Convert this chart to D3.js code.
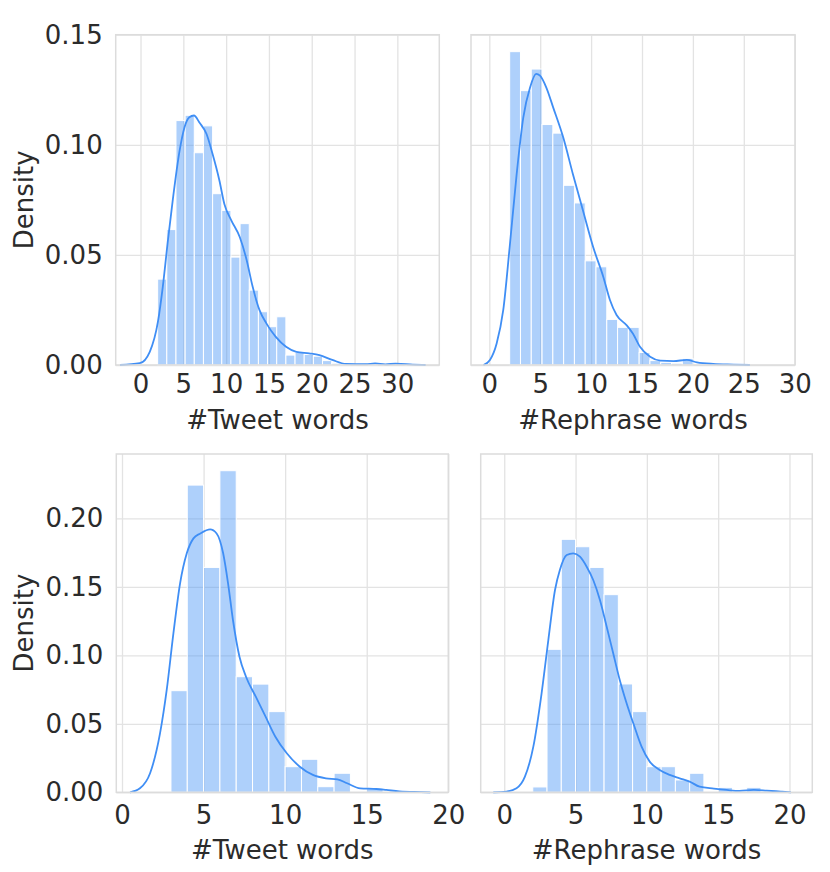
<!DOCTYPE html>
<html>
<head>
<meta charset="utf-8">
<script src="https://cdn.jsdelivr.net/npm/d3@7"></script>
<style>
  body { margin: 0; background: #fff; }
  svg text { font-family: "DejaVu Sans", sans-serif; fill: #2b2b2b; }
</style>
</head>
<body>
<div id="chart"></div>
<script>
// histogram bin heights (density)
var tweetTopStart = 2, tweetTopWidth = 1.07;
var tweetTopBars = [0.039, 0.0615, 0.111, 0.1134, 0.0964, 0.1086, 0.0778, 0.0702, 0.049, 0.0642,
  0.034, 0.0242, 0.0174, 0.0219, 0.0045, 0.0057, 0.0048, 0.004, 0.002, 0.0008,
  0.0004, 0, 0, 0.0004, 0, 0, 0, 0.0004, 0];
var rephTopStart = 2, rephTopWidth = 1.06;
var rephTopBars = [0.1423, 0.1246, 0.1344, 0.1092, 0.1053, 0.0816, 0.0736, 0.0473, 0.0446, 0.0207,
  0.0171, 0.0171, 0.0057, 0.002, 0.0012, 0.0008, 0.003];
var tweetBotStart = 3, tweetBotWidth = 1;
var tweetBotBars = [0.0742, 0.2243, 0.1642, 0.2348, 0.0844, 0.079, 0.0589, 0.0187, 0.0241, 0.0041,
  0.0139, 0, 0.003];
var rephBotStart = 2, rephBotWidth = 1;
var rephBotBars = [0.0039, 0.1044, 0.1847, 0.1793, 0.1642, 0.1443, 0.0791, 0.0589, 0.0187, 0.0187,
  0.009, 0.0139, 0, 0.0036, 0, 0.0036];

// kde curves [x, density]
var tweetTopKde = [[-2.4,0],[-0.09,0.0008],[1.08,0.006],[2.05,0.02],[2.6,0.0355],[3.2,0.0566],[3.8,0.076],
  [4.55,0.097],[5.14,0.108],[5.7,0.1125],[6.24,0.1133],[6.9,0.11],[7.7,0.105],[8.4,0.096],[9.2,0.084],
  [9.8,0.073],[10.6,0.0657],[11.6,0.058],[12.4,0.0476],[13.1,0.0355],[13.9,0.0249],[14.7,0.0189],
  [15.8,0.0128],[17.0,0.0083],[18.2,0.006],[19.7,0.0053],[20.9,0.0045],[22.4,0.0023],[24.0,0.0005],
  [26.3,0.0004],[27.4,0.0007],[28.6,0.0003],[29.8,0.0006],[31.8,0.0002],[33.3,0]];
var rephTopKde = [[-0.58,0],[0.06,0.0023],[0.72,0.0098],[1.37,0.025],[2.0,0.0536],[2.69,0.0869],
  [3.34,0.1125],[4.0,0.126],[4.6,0.1322],[4.98,0.1314],[5.6,0.126],[6.27,0.117],[7.25,0.1035],
  [8.2,0.0869],[9.2,0.0702],[10.2,0.0536],[11.2,0.04],[11.85,0.0295],[12.5,0.0227],[13.5,0.018],
  [14.1,0.0143],[14.8,0.0083],[15.8,0.0038],[16.8,0.002],[18.1,0.0018],[19.4,0.0023],[20.4,0.0012],
  [22.0,0.0005],[24.0,0.0002],[25.6,0]];
var tweetBotKde = [[0.49,0],[1.1,0.0029],[1.72,0.0139],[2.33,0.043],[2.74,0.0747],[3.15,0.116],
  [3.56,0.1526],[3.97,0.1745],[4.38,0.1854],[4.8,0.189],[5.4,0.192],[5.8,0.189],[6.2,0.1745],
  [6.5,0.1526],[6.8,0.1258],[7.2,0.099],[7.6,0.0844],[8.2,0.0698],[8.8,0.0552],[9.4,0.0406],
  [10.1,0.0285],[10.9,0.0187],[11.7,0.0127],[12.5,0.0102],[13.2,0.0095],[13.8,0.0066],[14.6,0.0029],
  [15.6,0.0024],[16.2,0.0017],[17.0,0.0007],[18.3,0.0002],[18.9,0]];
var rephBotKde = [[-0.77,0],[0.16,0.0005],[0.86,0.0029],[1.45,0.0114],[2.04,0.0333],[2.62,0.0723],
  [3.09,0.111],[3.56,0.1477],[3.9,0.1623],[4.38,0.1732],[4.84,0.1745],[5.31,0.172],[5.78,0.1647],
  [6.24,0.155],[6.71,0.1404],[7.18,0.121],[7.64,0.1015],[8.1,0.082],[8.58,0.065],[9.05,0.0504],
  [9.63,0.0333],[10.2,0.0224],[10.9,0.0163],[11.6,0.0127],[12.3,0.0102],[13.0,0.0078],[13.7,0.0041],
  [14.7,0.0027],[15.6,0.0017],[16.5,0.001],[17.5,0.0017],[18.4,0.0012],[19.4,0.0005],[20.1,0]];

var topYTicks = [0, 0.05, 0.10, 0.15];
var botYTicks = [0, 0.05, 0.10, 0.15, 0.20];
var xTicks30 = [0, 5, 10, 15, 20, 25, 30];
var xTicks20 = [0, 5, 10, 15, 20];

var width = 830, height = 872;
var lineColor = "#3f8ef5";
var fontSize = 26;

var svg = d3.select("#chart").append("svg")
    .attr("width", width)
    .attr("height", height);

var panels = [
  {x0: 115.7, x1: 439.3, y0: 34.7, y1: 365, xd: [-2.9, 34.9], yd: [0, 0.15], xt: xTicks30, yt: topYTicks,
   bars: tweetTopBars, start: tweetTopStart, bw: tweetTopWidth, kde: tweetTopKde, label: "#Tweet words", showY: true, pad: 10},
  {x0: 471, x1: 795, y0: 34.7, y1: 365, xd: [-1.8, 30.03], yd: [0, 0.15], xt: xTicks30, yt: topYTicks,
   bars: rephTopBars, start: rephTopStart, bw: rephTopWidth, kde: rephTopKde, label: "#Rephrase words", showY: false, pad: 10},
  {x0: 116.3, x1: 448.3, y0: 454, y1: 792.3, xd: [-0.35, 20.0], yd: [0, 0.247], xt: xTicks20, yt: botYTicks,
   bars: tweetBotBars, start: tweetBotStart, bw: tweetBotWidth, kde: tweetBotKde, label: "#Tweet words", showY: true, pad: 13},
  {x0: 480.7, x1: 812.3, y0: 454, y1: 792.3, xd: [-1.65, 21.6], yd: [0, 0.247], xt: xTicks20, yt: botYTicks,
   bars: rephBotBars, start: rephBotStart, bw: rephBotWidth, kde: rephBotKde, label: "#Rephrase words", showY: false, pad: 13}
];

panels.forEach(function(p) {
  var w = p.x1 - p.x0, h = p.y1 - p.y0;
  var x = d3.scaleLinear().domain(p.xd).range([0, w]);
  var y = d3.scaleLinear().domain(p.yd).range([h, 0]);
  var g = svg.append("g").attr("transform", "translate(" + p.x0 + "," + p.y0 + ")");

  // grid + tick labels
  var xa = g.append("g")
      .attr("transform", "translate(0," + h + ")")
      .call(d3.axisBottom(x).tickValues(p.xt).tickSize(-h).tickPadding(p.pad).tickFormat(d3.format("d")));
  var ya = g.append("g")
      .call(d3.axisLeft(y).tickValues(p.yt).tickSize(-w).tickPadding(13).tickFormat(d3.format(".2f")));
  [xa, ya].forEach(function(a) {
    a.select(".domain").remove();
    a.selectAll("line").attr("stroke", "#e3e3e3").attr("stroke-width", 1.3);
    a.selectAll("text").attr("font-size", fontSize).style("fill", "#2b2b2b")
      .attr("font-family", "DejaVu Sans, sans-serif");
  });
  if (!p.showY) ya.selectAll("text").remove();

  // histogram bars
  g.append("g").selectAll("rect")
    .data(p.bars)
    .enter().append("rect")
      .attr("x", function(d, i) { return x(p.start + i * p.bw); })
      .attr("width", function(d, i) { return x(p.start + (i + 1) * p.bw) - x(p.start + i * p.bw); })
      .attr("y", function(d) { return y(d); })
      .attr("height", function(d) { return h - y(d); })
      .attr("fill", lineColor)
      .attr("fill-opacity", 0.42)
      .attr("stroke", "#ffffff")
      .attr("stroke-width", 1);

  // kde
  g.append("path")
    .datum(p.kde)
    .attr("fill", "none")
    .attr("stroke", lineColor)
    .attr("stroke-width", 1.8)
    .attr("d", d3.line()
      .x(function(d) { return x(d[0]); })
      .y(function(d) { return y(d[1]); })
      .curve(d3.curveMonotoneX));

  // frame
  g.append("rect")
    .attr("width", w).attr("height", h)
    .attr("fill", "none")
    .attr("stroke", "#dcdcdc")
    .attr("stroke-width", 1.5);

  g.append("text")
    .attr("x", w / 2)
    .attr("y", h + p.pad + 54)
    .attr("text-anchor", "middle")
    .attr("font-size", fontSize)
    .text(p.label);

  if (p.showY) {
    g.append("text")
      .attr("transform", "translate(" + (24 - p.x0) + "," + (h / 2) + ") rotate(-90)")
      .attr("text-anchor", "middle")
      .attr("dominant-baseline", "central")
      .attr("font-size", fontSize)
      .text("Density");
  }
});
</script>
</body>
</html>
